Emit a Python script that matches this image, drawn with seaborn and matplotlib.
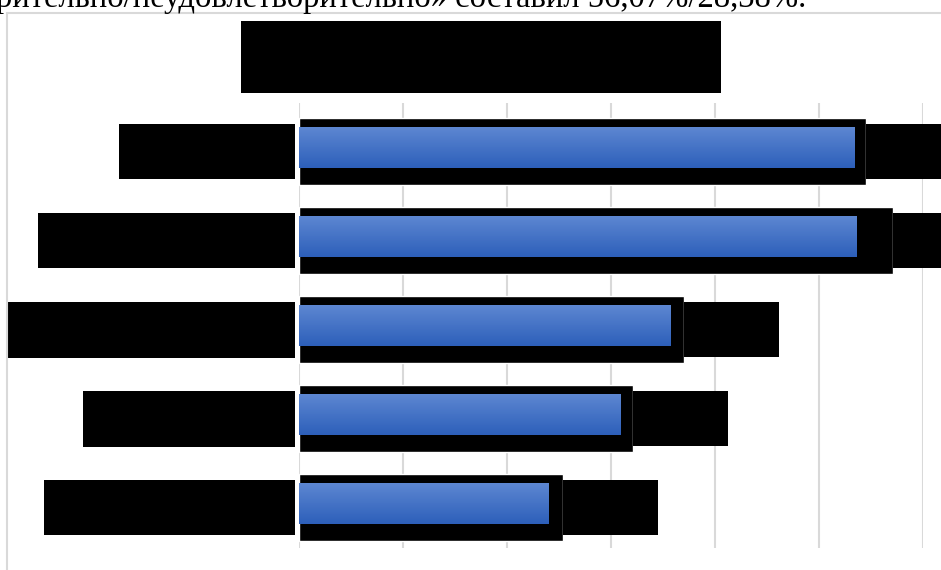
import numpy as np
import matplotlib.pyplot as plt
import seaborn as sns
from matplotlib.colors import LinearSegmentedColormap
from matplotlib.patches import Rectangle

# =========================
# DATA
# =========================

categories = [
    "Преподавание",
    "Содержание программ",
    "Материальная база учебы",
    "Расписание учебы",
    "Доступность ресурсов",
]
values = [53.4, 53.6, 35.7, 30.9, 24.0]
value_labels = ["53,4%", "53,6%", "35,7%", "30,9%", "24,0%"]
# right end of the blacked-out area around each bar
mask_ends = [54.5, 57.1, 37.0, 32.1, 25.4]
x_ticks = [0, 10, 20, 30, 40, 50, 60]

title = "Оценка удовлетворённости, %"
header = "рительно/неудовлетворительно» составил 56,07%/28,38%."

# =========================
# FIGURE
# =========================

sns.set_style("white")

fig = plt.figure(figsize=(9.41, 5.70), dpi=100)
ax = fig.add_axes([299 / 941, 1 - 548 / 570, 624 / 941, 445 / 570])

sns.barplot(x=values, y=categories, orient="h", width=0.47,
            color="#4472c4", linewidth=0, ax=ax, zorder=3)

# gradient fill on the bars
grad_cmap = LinearSegmentedColormap.from_list("bar", ["#5e88d2", "#2d5fba"])
grad = np.linspace(0, 1, 64).reshape(-1, 1)
for bar in ax.containers[0]:
    x0, y0 = bar.get_x(), bar.get_y()
    w, h = bar.get_width(), bar.get_height()
    im = ax.imshow(grad, extent=[x0, x0 + w, y0 + h, y0], aspect="auto",
                   cmap=grad_cmap, zorder=4, origin="upper")
    im.set_clip_path(bar)

# black boxes behind bars (redaction), sit a little lower than the bars
ypos = np.arange(len(values)) + 0.045
ax.barh(ypos, mask_ends, height=0.75, color="black", zorder=2)

# data labels, blacked out
fs = 13
pad = 1.04
for i, (end, lab) in enumerate(zip(mask_ends, value_labels)):
    ax.annotate(lab, (end, i), xytext=(pad * fs, -3), textcoords="offset points",
                ha="left", va="center", fontsize=fs, color="black",
                bbox=dict(boxstyle=f"square,pad={pad}", fc="black", ec="none"),
                annotation_clip=False, zorder=5)

# category labels, blacked out
for i, cat in enumerate(categories):
    ax.annotate(cat, (0, i), xytext=(-(2.9 + pad * fs), -3),
                textcoords="offset points", ha="right", va="center",
                fontsize=fs, color="black",
                bbox=dict(boxstyle=f"square,pad={pad}", fc="black", ec="none"),
                annotation_clip=False)

ax.set_xlim(0, 60)
ax.set_ylim(4.5, -0.5)
ax.set_xticks(x_ticks)
ax.xaxis.grid(True, color="#d9d9d9", lw=1.5)
ax.yaxis.grid(False)
ax.set_axisbelow(True)
ax.tick_params(axis="x", labelbottom=False, length=0)
ax.tick_params(axis="y", labelleft=False, length=0)
sns.despine(ax=ax, left=True, bottom=True)
ax.set_xlabel("")
ax.set_ylabel("")

# chart title (blacked out)
fig.text(481 / 941, 1 - 57 / 570, title, ha="center", va="center",
         fontsize=19.2, color="black",
         bbox=dict(boxstyle="square,pad=0.87", fc="black", ec="none"))

# document text cut off above the chart
fig.text(806 / 941, 1 - 7 / 570, header, ha="right", va="baseline",
         fontsize=23.5, family="Liberation Serif", color="black")

# chart area border
fig.add_artist(Rectangle((7 / 941, -0.1), 1.2, 1 - 13 / 570 + 0.1,
                         transform=fig.transFigure, fill=False,
                         edgecolor="#d9d9d9", lw=1.5))

plt.savefig("out.png", dpi=100)
plt.close()
